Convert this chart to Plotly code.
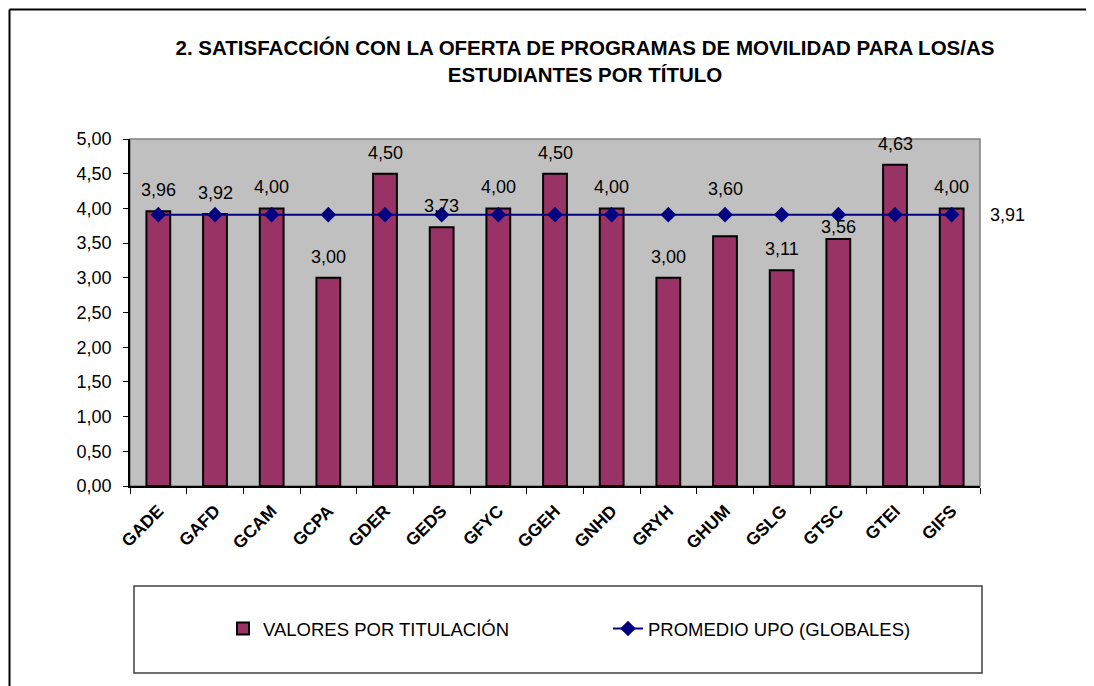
import plotly.graph_objects as go

categories = ["GADE", "GAFD", "GCAM", "GCPA", "GDER", "GEDS", "GFYC", "GGEH",
              "GNHD", "GRYH", "GHUM", "GSLG", "GTSC", "GTEI", "GIFS"]
valores = [3.96, 3.92, 4.00, 3.00, 4.50, 3.73, 4.00, 4.50, 4.00, 3.00, 3.60, 3.11, 3.56, 4.63, 4.00]
promedio = [3.91] * len(categories)
y_ticks = [0, 0.5, 1, 1.5, 2, 2.5, 3, 3.5, 4, 4.5, 5]

FONT = "Liberation Sans, Arial, sans-serif"
OFF = 8  # page body margin
W, H = 1094 - OFF, 686 - OFF
# plot area in screen pixels
L, R, T, B = 130, 980, 139, 486
pw, ph = R - L, B - T


def px(x):
    return (x - L) / pw


def py(y):
    return (B - y) / ph


def fmt(v):
    return f"{v:.2f}".replace(".", ",")


fig = go.Figure()
fig.add_trace(go.Bar(
    x=categories, y=valores, name="VALORES POR TITULACIÓN",
    marker=dict(color="#993366", line=dict(color="#000000", width=2)),
    width=0.42,
))
fig.add_trace(go.Scatter(
    x=categories, y=promedio, name="PROMEDIO UPO (GLOBALES)",
    mode="lines+markers",
    line=dict(color="#000080", width=2),
    marker=dict(symbol="diamond", size=12, color="#000080"),
))

# data labels above bars
label_shift = {10: 47, 12: 12}
for i, (c, v) in enumerate(zip(categories, valores)):
    fig.add_annotation(x=c, y=v, text=fmt(v), showarrow=False,
                       yshift=label_shift.get(i, 21),
                       font=dict(family=FONT, size=18, color="#000000"))
fig.add_annotation(x=categories[-1], y=promedio[-1], text=fmt(promedio[-1]),
                   showarrow=False, xanchor="left", xshift=36,
                   font=dict(family=FONT, size=18, color="#000000"))

shapes = [
    dict(type="rect", xref="paper", yref="paper", x0=0, x1=1, y0=0, y1=1,
         line=dict(color="#808080", width=1.5), layer="below"),
    dict(type="line", xref="paper", yref="paper", x0=px(9.5), x1=px(9.5), y0=py(9.5), y1=py(690),
         line=dict(color="#000000", width=2)),
    dict(type="line", xref="paper", yref="paper", x0=px(9.5), x1=px(1100), y0=py(9.5), y1=py(9.5),
         line=dict(color="#000000", width=2)),
    dict(type="rect", xref="paper", yref="paper", x0=px(134), x1=px(982), y0=py(586), y1=py(673),
         line=dict(color="#404040", width=1.5)),
]

fig.update_layout(
    width=W, height=H,
    margin=dict(l=L - OFF, r=W - (R - OFF), t=T - OFF, b=H - (B - OFF), pad=0),
    paper_bgcolor="#FFFFFF", plot_bgcolor="#C0C0C0",
    separators=",.",
    title=dict(
        text="2. SATISFACCIÓN CON LA OFERTA DE PROGRAMAS DE MOVILIDAD PARA LOS/AS<br>ESTUDIANTES POR TÍTULO",
        x=(585 - OFF) / W, xanchor="center", xref="container",
        y=1 - (55 - OFF) / H, yanchor="middle", yref="container",
        font=dict(family=FONT, size=20.5, color="#000000", weight="bold"),
    ),
    xaxis=dict(
        type="category", tickangle=-45, tickson="boundaries", ticks="outside",
        ticklen=6, tickcolor="#000000", showline=True, linecolor="#000000", linewidth=1.5,
        tickfont=dict(family=FONT, size=17.5, color="#000000", weight="bold"),
        ticklabelstandoff=6,
        showgrid=False, range=[-0.5, 14.5], fixedrange=True,
    ),
    yaxis=dict(
        range=[0, 5], tickvals=y_ticks, tickformat=".2f", ticks="outside", ticklen=5,
        tickcolor="#000000", showline=True, linecolor="#000000", linewidth=1.5,
        tickfont=dict(family=FONT, size=18, color="#000000"),
        ticklabelstandoff=8,
        showgrid=False, zeroline=False,
    ),
    showlegend=True,
    legend=dict(
        orientation="h", x=px(223), xanchor="left", y=py(629), yanchor="middle",
        font=dict(family=FONT, size=18.5, color="#000000"),
        entrywidth=340, entrywidthmode="pixels", bgcolor="rgba(0,0,0,0)",
        traceorder="normal",
    ),
    shapes=shapes,
)

fig.write_html("out.html")
